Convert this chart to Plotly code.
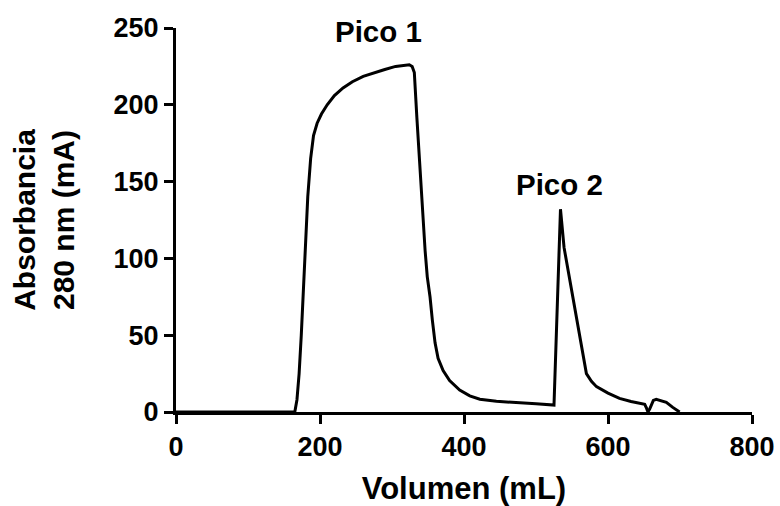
import plotly.graph_objects as go

# Elution volume (mL) and absorbance at 280 nm (mA)
volumen = [0, 165, 168, 171, 174, 177, 180, 183, 187, 191, 196, 202, 210, 220, 232,
           245, 260, 275, 290, 305, 318, 324, 328, 331, 334.5, 338, 341.3, 346, 349,
           352.8, 356, 359.8, 364, 371, 380, 394, 408, 422, 445, 468, 500, 525, 534,
           539, 546, 555, 562, 570, 577, 584, 600, 616, 632, 646, 651, 653.5, 655.5,
           658, 663, 667, 674, 681, 690, 699.5]
absorbancia = [0, 0, 8, 25, 50, 80, 110, 140, 165, 180, 188, 194, 200, 206, 211,
               215, 218.5, 221, 223, 225, 226, 226.1, 225, 221, 192, 165, 138, 105, 88,
               75, 60, 45, 35, 27, 20.5, 14.3, 10.5, 8.3, 7, 6.1, 5.3, 4.5, 132,
               107, 89, 65, 46, 25, 20, 16.5, 12.3, 8.9, 6.8, 5.8, 5, 2.5, 0,
               2, 7.6, 8.3, 7.5, 6.3, 3, 0]

x_ticks = [0, 200, 400, 600, 800]
y_ticks = [0, 50, 100, 150, 200, 250]

picos = ["Pico 1", "Pico 2"]
picos_x = [280.7, 533]
picos_y = [247.4, 147.8]

FONT = "Liberation Sans, Arial, sans-serif"

fig = go.Figure()
fig.add_trace(go.Scatter(x=volumen, y=absorbancia, mode="lines",
                         line=dict(color="black", width=3), showlegend=False,
                         hoverinfo="skip"))

for t, px_, py_ in zip(picos, picos_x, picos_y):
    fig.add_annotation(x=px_, y=py_, xref="x", yref="y", text=t, showarrow=False,
                       xanchor="center", yanchor="middle",
                       font=dict(family=FONT, size=29.5, color="black", weight="bold"))

axis_common = dict(showline=True, linecolor="black", linewidth=3, ticks="outside",
                   ticklen=9, tickwidth=3, tickcolor="black", showgrid=False,
                   zeroline=False, automargin=False,
                   tickfont=dict(family=FONT, size=27, color="black", weight="bold"))

fig.update_xaxes(range=[0, 800], tickvals=x_ticks, **axis_common,
                 title=dict(text="Volumen (mL)", standoff=18,
                            font=dict(family=FONT, size=31, color="black", weight="bold")))
fig.update_yaxes(range=[0, 250], tickvals=y_ticks, **axis_common,
                 title=dict(text="Absorbancia<br>280 nm (mA)", standoff=31,
                            font=dict(family=FONT, size=30, color="black", weight="bold")))

fig.update_layout(width=780, height=506, plot_bgcolor="white", paper_bgcolor="white",
                  margin=dict(l=176, r=28, t=28, b=94))

fig.write_html("out.html", config={"displayModeBar": False},
               post_script="document.body.style.margin='0';")
